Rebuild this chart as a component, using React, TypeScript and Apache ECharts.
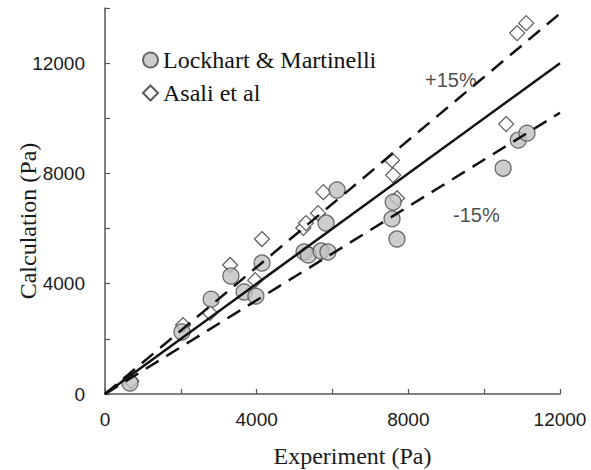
import React, { useEffect, useRef } from "react";
import * as echarts from "echarts";

const lockhartMartinelli: [number, number][] = [
  [660, 400], [2030, 2250], [2800, 3440], [3320, 4280], [4140, 4750],
  [3670, 3700], [3980, 3550], [5250, 5150], [5360, 5040], [5700, 5185],
  [5880, 5150], [5830, 6200], [6120, 7400], [7600, 6960], [7570, 6350],
  [7700, 5620], [10500, 8190], [10900, 9210], [11130, 9460],
];

const asali: [number, number][] = [
  [690, 470], [2060, 2500], [2770, 2940], [3300, 4680], [4140, 5620],
  [3960, 4130], [5230, 6020], [5300, 6200], [5620, 6560], [5760, 7320],
  [7600, 7940], [7700, 7100], [7570, 8480], [10580, 9790], [10870, 13090],
  [11110, 13450],
];

const parityLine: [number, number][] = [[0, 0], [12000, 12000]];
const plus15Line: [number, number][] = [[0, 0], [12000, 13800]];
const minus15Line: [number, number][] = [[0, 0], [12000, 10200]];

const annotations = [
  { name: "+15%", value: [8440, 11385] },
  { name: "-15%", value: [9180, 6490] },
];

const xTickLabels = ["0", "4000", "8000", "12000"];
const yTickLabels = ["0", "4000", "8000", "12000"];

export default function App() {
  const ref = useRef<HTMLDivElement>(null);

  useEffect(() => {
    document.body.style.margin = "0";
    if (!ref.current) return;
    const chart = echarts.init(ref.current, undefined, { renderer: "svg" });
    const axisColor = "#555";
    const lineColor = "#111";
    const fmt = (labels: string[]) => (v: number) =>
      labels.includes(String(v)) ? String(v) : "";

    chart.setOption({
      animation: false,
      backgroundColor: "#fff",
      grid: {
        left: 105,
        right: 31,
        top: 8,
        bottom: 76,
        containLabel: false,
        outerBoundsMode: "none",
      },
      legend: {
        orient: "vertical",
        left: 137,
        top: 43,
        itemWidth: 15,
        itemHeight: 15,
        itemGap: 9,
        textStyle: { fontFamily: "Liberation Serif", fontSize: 24, color: "#111" },
        data: [
          { name: "Lockhart & Martinelli", icon: "circle" },
          { name: "Asali et al", icon: "diamond" },
        ],
      },
      xAxis: {
        type: "value",
        min: 0,
        max: 12000,
        interval: 2000,
        splitLine: { show: false },
        axisLine: { lineStyle: { color: axisColor, width: 1.5 } },
        axisTick: { inside: true, length: 5, lineStyle: { color: axisColor, width: 1.2 } },
        axisLabel: {
          formatter: fmt(xTickLabels),
          fontFamily: "Liberation Sans",
          fontSize: 19,
          color: "#1a1a1a",
          margin: 16,
        },
        name: "Experiment (Pa)",
        nameLocation: "middle",
        nameGap: 50,
        nameMoveOverlap: false,
        nameTextStyle: {
          fontFamily: "Liberation Serif",
          fontSize: 24,
          color: "#1a1a1a",
          padding: [0, 0, 0, 40],
        },
      },
      yAxis: {
        type: "value",
        min: 0,
        max: 14000,
        interval: 2000,
        splitLine: { show: false },
        axisLine: { lineStyle: { color: axisColor, width: 1.5 } },
        axisTick: { inside: true, length: 5, lineStyle: { color: axisColor, width: 1.2 } },
        axisLabel: {
          formatter: fmt(yTickLabels),
          fontFamily: "Liberation Sans",
          fontSize: 19,
          color: "#1a1a1a",
          margin: 20,
        },
        name: "Calculation (Pa)",
        nameLocation: "middle",
        nameGap: 65,
        nameMoveOverlap: false,
        nameTextStyle: {
          fontFamily: "Liberation Serif",
          fontSize: 24,
          color: "#1a1a1a",
          padding: [0, 40, 0, 0],
        },
      },
      series: [
        {
          name: "Asali et al",
          type: "scatter",
          symbol: "diamond",
          symbolSize: 15,
          data: asali,
          itemStyle: { color: "#fff", borderColor: "#333", borderWidth: 1.2 },
          z: 2,
        },
        {
          name: "Lockhart & Martinelli",
          type: "scatter",
          symbol: "circle",
          symbolSize: 16,
          data: lockhartMartinelli,
          itemStyle: { color: "#c0c0c0", borderColor: "#444", borderWidth: 1.2 },
          z: 3,
        },
        {
          name: "parity",
          type: "line",
          data: parityLine,
          symbol: "none",
          lineStyle: { color: lineColor, width: 2.5, type: "solid" },
          z: 5,
        },
        {
          name: "plus15",
          type: "line",
          data: plus15Line,
          symbol: "none",
          lineStyle: { color: lineColor, width: 2.5, type: [15, 9] },
          z: 5,
        },
        {
          name: "minus15",
          type: "line",
          data: minus15Line,
          symbol: "none",
          lineStyle: { color: lineColor, width: 2.5, type: [15, 9] },
          z: 5,
        },
        {
          name: "annotations",
          type: "scatter",
          symbolSize: 0,
          data: annotations,
          silent: true,
          label: {
            show: true,
            position: "right",
            distance: 0,
            formatter: (p: any) => p.name,
            fontFamily: "Liberation Sans",
            fontSize: 20,
            color: "#1a1a1a",
          },
          z: 6,
        },
      ],
    });

    return () => chart.dispose();
  }, []);

  return <div ref={ref} style={{ width: 591, height: 470 }} />;
}
